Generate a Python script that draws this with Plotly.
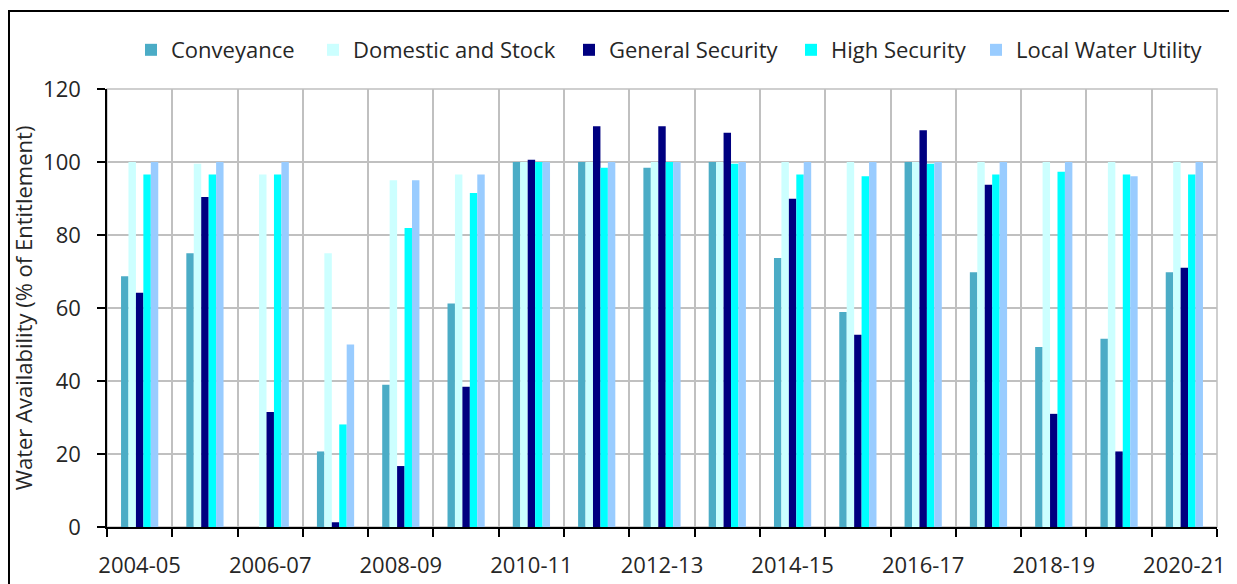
import plotly.graph_objects as go

seasons = ["2004-05", "2005-06", "2006-07", "2007-08", "2008-09", "2009-10", "2010-11",
           "2011-12", "2012-13", "2013-14", "2014-15", "2015-16", "2016-17", "2017-18",
           "2018-19", "2019-20", "2020-21"]

conveyance = [68.7, 75, 0, 20.7, 39, 61.2, 100, 100, 98.4, 100, 73.7, 58.9, 100, 69.8, 49.3, 51.6, 69.8]
domestic_stock = [100, 99.5, 96.6, 75, 95, 96.6, 100, 100, 100, 100, 100, 100, 100, 100, 100, 100, 100]
general_security = [64.2, 90.4, 31.5, 1.3, 16.7, 38.4, 100.6, 109.8, 109.8, 108, 89.9, 52.7, 108.7, 93.8, 31, 20.7, 71]
high_security = [96.6, 96.6, 96.6, 28.1, 81.9, 91.5, 100, 98.4, 100, 99.5, 96.6, 96.1, 99.5, 96.6, 97.3, 96.6, 96.6]
local_water_utility = [100, 100, 100, 50, 95, 96.6, 100, 100, 100, 100, 100, 100, 100, 100, 100, 96.1, 100]

series_names = ["Conveyance", "Domestic and Stock", "General Security", "High Security", "Local Water Utility"]
series_values = [conveyance, domestic_stock, general_security, high_security, local_water_utility]
series_colors = ["#4BACC6", "#CCFFFF", "#000080", "#00FFFF", "#99CCFF"]

y_ticks = [0, 20, 40, 60, 80, 100, 120]
x_ticktext = [s if i % 2 == 0 else "" for i, s in enumerate(seasons)]

FONT = "Open Sans"
legend_names = ["legend", "legend2", "legend3", "legend4", "legend5"]
legend_x = [0.0216, 0.1856, 0.4162, 0.6162, 0.7829]

fig = go.Figure()
for name, vals, col, lg in zip(series_names, series_values, series_colors, legend_names):
    fig.add_trace(go.Bar(x=seasons, y=vals, name=name, marker=dict(color=col, line=dict(width=0)),
                         legend=lg, showlegend=True))

layout_legends = {}
for lg, lx in zip(legend_names, legend_x):
    layout_legends[lg] = dict(x=lx, xanchor="left", y=1.089, yanchor="middle",
                              orientation="h", bgcolor="rgba(0,0,0,0)",
                              font=dict(family=FONT, size=22, color="#262626"))

# page body adds an 8px offset, so margins are shifted to compensate
fig.update_layout(
    width=1237, height=584,
    margin=dict(l=99, r=28, t=81, b=65, autoexpand=False),
    paper_bgcolor="white", plot_bgcolor="white",
    barmode="group", bargap=0.43, bargroupgap=0,
    showlegend=True,
    font=dict(family=FONT, size=22, color="#262626"),
    **layout_legends,
)

fig.update_xaxes(
    type="category", tickvals=seasons, ticktext=x_ticktext, tickson="boundaries",
    tickangle=0, automargin=False,
    ticks="outside", ticklen=8, tickwidth=1.5, tickcolor="black",
    showline=True, linecolor="black", linewidth=1.5,
    showgrid=True, gridcolor="#C0C0C0", gridwidth=1.5,
    tickfont=dict(family=FONT, size=22, color="#262626"),
    ticklabelstandoff=18,
)
fig.update_yaxes(
    range=[0, 120], tickvals=y_ticks, automargin=False,
    ticks="outside", ticklen=8, tickwidth=1.5, tickcolor="black",
    showline=True, linecolor="black", linewidth=1.5,
    showgrid=True, gridcolor="#C0C0C0", gridwidth=1.5,
    tickfont=dict(family=FONT, size=22, color="#262626"),
    ticklabelstandoff=12, zeroline=False,
    title=dict(text="Water Availability (% of Entitlement)", standoff=8,
               font=dict(family=FONT, size=22, color="#262626")),
)

# plot-area border (gray) and outer chart border (black)
fig.add_shape(type="rect", xref="paper", yref="paper", x0=0, x1=1, y0=0, y1=1,
              line=dict(color="#C0C0C0", width=1.5), layer="below")
fig.add_shape(type="rect", xref="paper", yref="paper", x0=-0.0883, x1=1.2, y0=-0.3, y1=1.178,
              line=dict(color="black", width=2), layer="below")

fig.write_html("out.html")
